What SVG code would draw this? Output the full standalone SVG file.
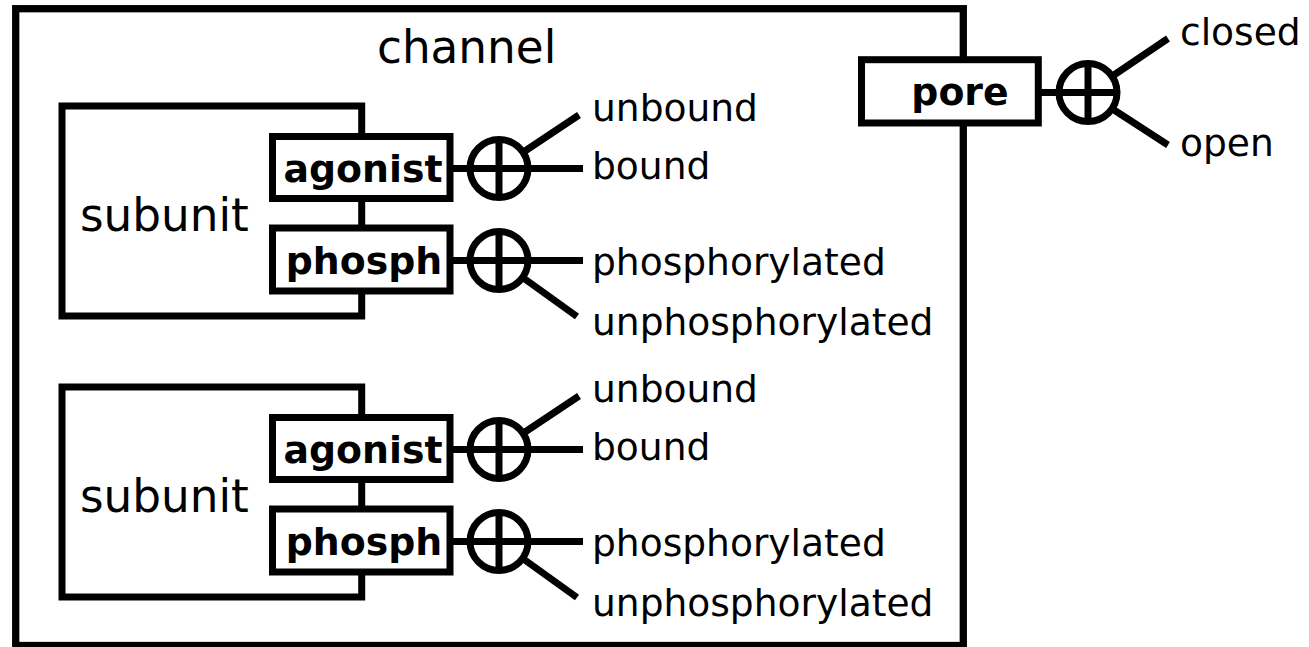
<svg xmlns="http://www.w3.org/2000/svg" width="1309" height="647" viewBox="0 0 1309 647">
<style>
.box{fill:#fff;stroke:#000;stroke-width:7}
.outer{fill:#fff;stroke:#000;stroke-width:7.3}
.ln{stroke:#000;stroke-width:7;fill:none}
.big{font-family:"DejaVu Sans",sans-serif;font-size:45.3px;fill:#000}
.lbl{font-family:"DejaVu Sans",sans-serif;font-size:37.6px;fill:#000}
.bold{font-family:"DejaVu Sans",sans-serif;font-size:37.8px;font-weight:bold;fill:#000;text-anchor:middle}
.xor{fill:#fff;stroke:#000;stroke-width:7}
</style>
<rect width="1309" height="647" fill="#fff"/>
<g id="channel">
<rect class="outer" x="15.7" y="8.7" width="947.6" height="636.8"/>
<text class="big" x="377" y="63.3">channel</text>
</g>
<g id="subunit1">
<rect class="box" x="62" y="106" width="299.7" height="210"/>
<text class="big" x="80" y="230.5">subunit</text>
</g>
<g id="subunit2">
<rect class="box" x="62" y="387" width="299.7" height="210"/>
<text class="big" x="80" y="511.5">subunit</text>
</g>
<g id="connectors">
<line class="ln" x1="450" y1="168.5" x2="472" y2="168.5"/>
<line class="ln" x1="526" y1="168.5" x2="583" y2="168.5"/>
<line class="ln" x1="522" y1="153" x2="579" y2="115"/>
<line class="ln" x1="450" y1="260.5" x2="472" y2="260.5"/>
<line class="ln" x1="526" y1="260.5" x2="583" y2="260.5"/>
<line class="ln" x1="522" y1="277" x2="577" y2="316.5"/>
<line class="ln" x1="450" y1="449.5" x2="472" y2="449.5"/>
<line class="ln" x1="526" y1="449.5" x2="583" y2="449.5"/>
<line class="ln" x1="522" y1="434" x2="579" y2="396"/>
<line class="ln" x1="450" y1="541.5" x2="472" y2="541.5"/>
<line class="ln" x1="526" y1="541.5" x2="583" y2="541.5"/>
<line class="ln" x1="522" y1="558" x2="577" y2="597.5"/>
<line class="ln" x1="1038" y1="92.5" x2="1061" y2="92.5"/>
<line class="ln" x1="1111" y1="77" x2="1168" y2="38.5"/>
<line class="ln" x1="1111" y1="108" x2="1168" y2="145"/>
</g>
<g id="agonist1">
<rect class="box" x="272.5" y="136.5" width="177.5" height="62"/>
<text class="bold" x="363" y="181.5">agonist</text>
</g>
<g id="phosph1">
<rect class="box" x="272.5" y="228" width="177.5" height="63"/>
<text class="bold" x="364" y="274">phosph</text>
</g>
<g id="agonist2">
<rect class="box" x="272.5" y="417.5" width="177.5" height="62"/>
<text class="bold" x="363" y="462.5">agonist</text>
</g>
<g id="phosph2">
<rect class="box" x="272.5" y="509" width="177.5" height="63"/>
<text class="bold" x="364" y="555">phosph</text>
</g>
<g id="pore">
<rect class="box" x="861.5" y="59.7" width="176.8" height="63.3"/>
<text class="bold" x="960" y="105">pore</text>
</g>
<g id="xor-agonist1">
<circle class="xor" cx="499" cy="168.5" r="29"/>
<path class="ln" d="M470 168.5H528M499 139.5V197.5"/>
</g>
<g id="xor-phosph1">
<circle class="xor" cx="499" cy="260.5" r="29"/>
<path class="ln" d="M470 260.5H528M499 231.5V289.5"/>
</g>
<g id="xor-agonist2">
<circle class="xor" cx="499" cy="449.5" r="29"/>
<path class="ln" d="M470 449.5H528M499 420.5V478.5"/>
</g>
<g id="xor-phosph2">
<circle class="xor" cx="499" cy="541.5" r="29"/>
<path class="ln" d="M470 541.5H528M499 512.5V570.5"/>
</g>
<g id="xor-pore">
<circle class="xor" cx="1088" cy="92.5" r="29"/>
<path class="ln" d="M1059 92.5H1117M1088 63.5V121.5"/>
</g>
<g id="labels">
<text class="lbl" x="592" y="121">unbound</text>
<text class="lbl" x="592" y="179">bound</text>
<text class="lbl" x="592" y="275">phosphorylated</text>
<text class="lbl" x="592" y="335">unphosphorylated</text>
<text class="lbl" x="592" y="402">unbound</text>
<text class="lbl" x="592" y="460">bound</text>
<text class="lbl" x="592" y="556">phosphorylated</text>
<text class="lbl" x="592" y="616">unphosphorylated</text>
<text class="lbl" x="1180" y="45">closed</text>
<text class="lbl" x="1180" y="156">open</text>
</g>
</svg>
